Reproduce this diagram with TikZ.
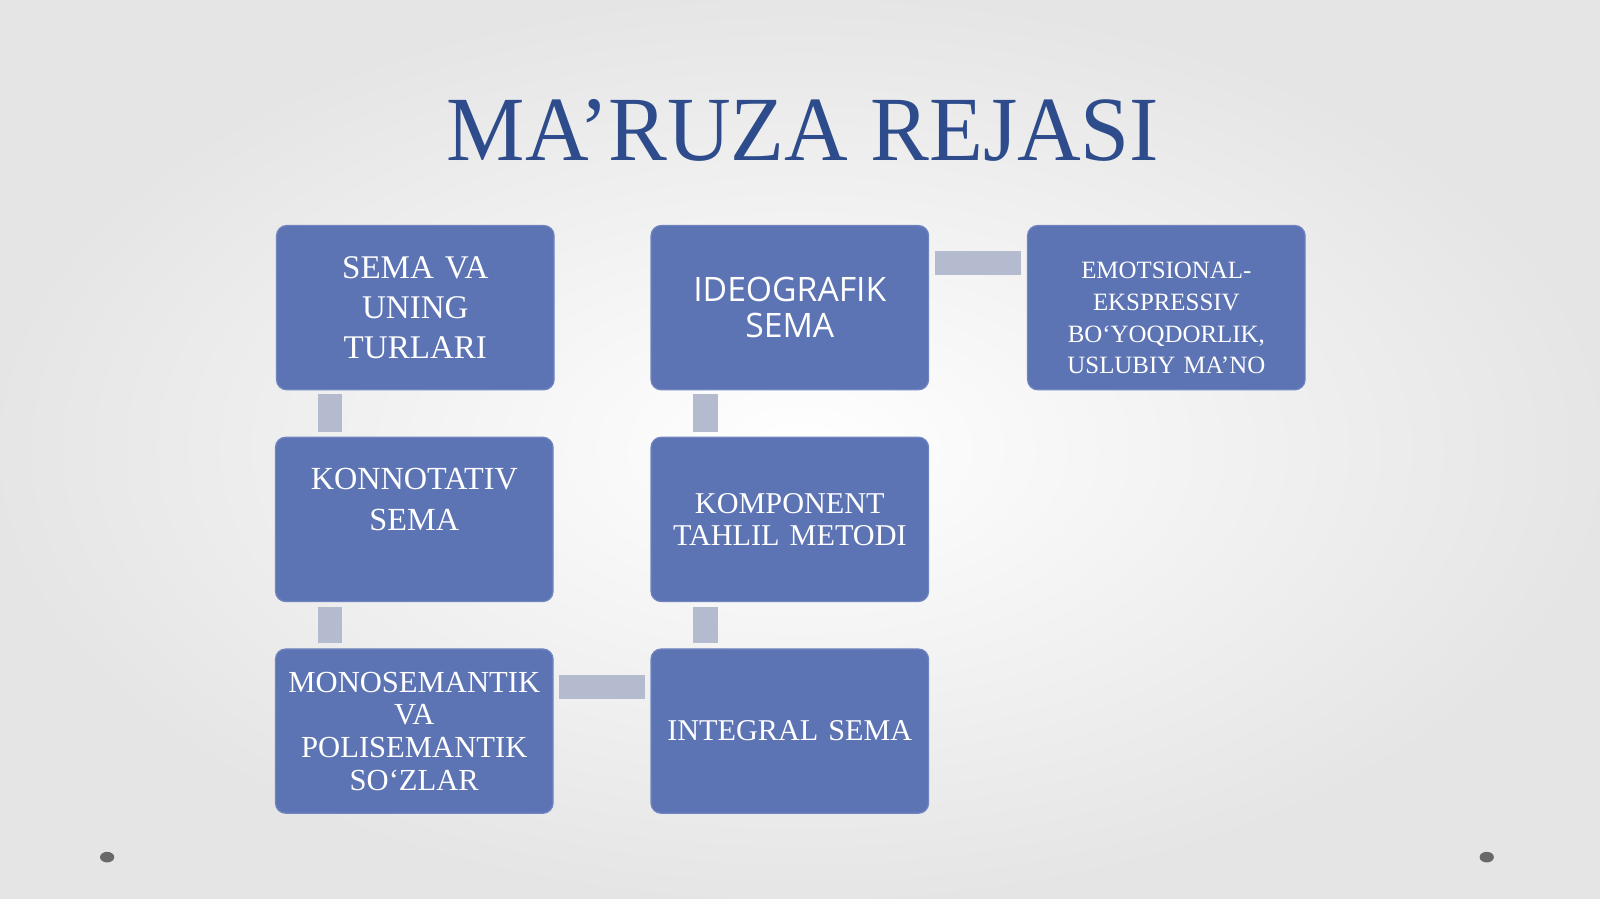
\documentclass[tikz,border=0pt]{standalone}
\usepackage{fontspec}
\setmainfont{Liberation Serif}
\newfontfamily\sansf{Open Sans}
\usetikzlibrary{calc}
\definecolor{boxfill}{RGB}{92,115,180}
\definecolor{boxedge}{RGB}{112,132,192}
\definecolor{connfill}{RGB}{181,187,207}
\definecolor{titlec}{RGB}{46,76,140}
\definecolor{dotc}{RGB}{105,105,105}
\tikzset{
  box/.style={draw=boxedge, line width=0.6pt, fill=boxfill, rounded corners=5pt,
    minimum width=136pt, minimum height=80.5pt, text width=132pt,
    align=center, text=white, inner sep=0pt},
  conn/.style={fill=connfill},
  fA/.style={font=\fontsize{16.2}{19.5}\selectfont},
  fB/.style={font=\fontsize{15.8}{20}\selectfont},
  fC/.style={font=\fontsize{15}{16}\selectfont},
  fD/.style={font=\sansf\fontsize{16.5}{17.5}\selectfont},
  fE/.style={font=\fontsize{14.8}{15.5}\selectfont},
  fG/.style={font=\fontsize{12.2}{15.5}\selectfont},
}
\begin{document}
\begin{tikzpicture}[x=0.5pt,y=-0.5pt]
\useasboundingbox (0,0) rectangle (1568,881);
\shade[inner color=white, outer color=black!10] (0,0) rectangle (1568,881);

\node[anchor=base, text=titlec, font=\fontsize{45}{50}\selectfont] (title) at (787,157)
  {\scalebox{0.96}[1]{MA’RUZA REJASI}};

\node[box, fA] (a) at (407,301.5) {SEMA VA\\UNING\\TURLARI};
\node[box, fB] (b) at (406,509) {KONNOTATIV\\SEMA\\~};
\node[box, fC] (c) at (406,716.5) {MONOSEMANTIK\\VA\\POLISEMANTIK\\SO‘ZLAR};
\node[box, fD] (d) at (774,301.5) {IDEOGRAFIK\\SEMA};
\node[box, fE] (e) at (774,509) {KOMPONENT\\TAHLIL METODI};
\node[box, fE] (f) at (774,716.5) {INTEGRAL SEMA};
\node[box, fG] (g) at (1143,301.5) {\mbox{}\\[3pt]EMOTSIONAL-\\EKSPRESSIV\\BO‘YOQDORLIK,\\USLUBIY MA’NO};

\fill[conn] ($(a.south west)+(41,4)$) rectangle ($(b.north west)+(66,-5)$);
\fill[conn] ($(b.south west)+(42,5)$) rectangle ($(c.north west)+(66,-5)$);
\fill[conn] ($(c.north east)+(5,26)$) rectangle ($(f.north west)+(-5,50)$);
\fill[conn] ($(e.south west)+(42,5)$) rectangle ($(f.north west)+(66,-5)$);
\fill[conn] ($(d.south west)+(42,4)$) rectangle ($(e.north west)+(66,-5)$);
\fill[conn] ($(d.north east)+(6,26)$) rectangle ($(g.north west)+(-6,49)$);

\fill[dotc] (105,840) ellipse (3.5pt and 2.6pt);
\fill[dotc] (1457,840) ellipse (3.5pt and 2.6pt);
\end{tikzpicture}
\end{document}
